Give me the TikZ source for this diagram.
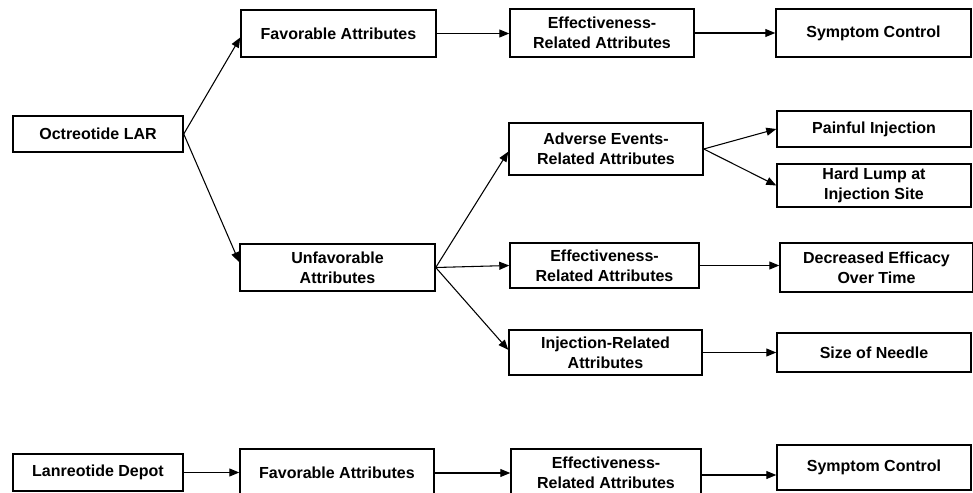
\documentclass[tikz,border=0pt]{standalone}
\usepackage{fontspec}
\setmainfont{Liberation Sans}
\usetikzlibrary{arrows.meta}
\begin{document}
\begin{tikzpicture}[x=0.75pt,y=-0.75pt,
  box/.style={draw=black, line width=1.1pt, inner sep=0pt, align=center,
    font=\fontsize{12}{15}\selectfont\bfseries, fill=white},
  arr/.style={line width=0.8pt, -{Triangle[length=7.5pt,width=6pt]}}]
\useasboundingbox (0,0) rectangle (973,492);
\clip (0,0) rectangle (973,492);
\fill[white] (0,0) rectangle (973,492);
% row nodes
\node[box, minimum width=127.5pt, minimum height=27pt] (oct) at (98,134) {Octreotide LAR};
\node[box, minimum width=146.25pt, minimum height=35.25pt] (fav1) at (338.5,33.5) {Favorable Attributes};
\node[box, minimum width=138pt, minimum height=36pt] (eff1) at (602,33) {Effectiveness-\\Related Attributes};
\node[box, minimum width=146.25pt, minimum height=36pt] (sym1) at (873.5,33) {Symptom Control};
\node[box, minimum width=146.25pt, minimum height=35.25pt] (unf) at (337.5,267.5) {Unfavorable\\Attributes};
\node[box, minimum width=145.5pt, minimum height=39pt] (adv) at (606,149) {Adverse Events-\\Related Attributes};
\node[box, minimum width=145.5pt, minimum height=27pt] (pain) at (874,129) {Painful Injection};
\node[box, minimum width=145.5pt, minimum height=32.25pt] (hard) at (874,185.5) {Hard Lump at\\Injection Site};
\node[box, minimum width=141.75pt, minimum height=33.75pt] (eff2) at (604.5,265.5) {Effectiveness-\\Related Attributes};
\node[box, minimum width=144.75pt, minimum height=36.75pt] (dec) at (876.5,267.5) {Decreased Efficacy\\Over Time};
\node[box, minimum width=144.75pt, minimum height=33.75pt] (inj) at (605.5,352.5) {Injection-Related\\Attributes};
\node[box, minimum width=145.5pt, minimum height=29.25pt] (size) at (874,352.5) {Size of Needle};
\node[box, minimum width=127.5pt, minimum height=27.75pt] (lan) at (98,472.5) {Lanreotide Depot};
\node[box, minimum width=145.5pt, minimum height=36pt] (fav2) at (337,473) {Favorable Attributes};
\node[box, minimum width=142.5pt, minimum height=36pt] (eff3) at (606,473) {Effectiveness-\\Related Attributes};
\node[box, minimum width=145.5pt, minimum height=33.75pt] (sym2) at (874,467.5) {Symptom Control};
% connectors
\draw[arr] (oct.east) -- ([yshift=-3pt]fav1.west);
\draw[arr] (oct.east) -- ([yshift=4pt]unf.west);
\draw[arr] (fav1.east) -- (fav1.east -| eff1.west);
\draw[arr] (eff1.east) -- (sym1.west);
\draw[arr] (unf.east) -- ([yshift=-2pt]adv.west);
\draw[arr] (unf.east) -- (eff2.west);
\draw[arr] (unf.east) -- ([yshift=2pt]inj.west);
\draw[arr] (adv.east) -- (pain.west);
\draw[arr] (adv.east) -- (hard.west);
\draw[arr] (eff2.east) -- (eff2.east -| dec.west);
\draw[arr] (inj.east) -- (size.west);
\draw[arr] (lan.east) -- (lan.east -| fav2.west);
\draw[arr] (fav2.east) -- (eff3.west);
\draw[arr] ([yshift=-1.5pt]eff3.east) -- ([yshift=-1.5pt]eff3.east -| sym2.west);
\end{tikzpicture}
\end{document}
